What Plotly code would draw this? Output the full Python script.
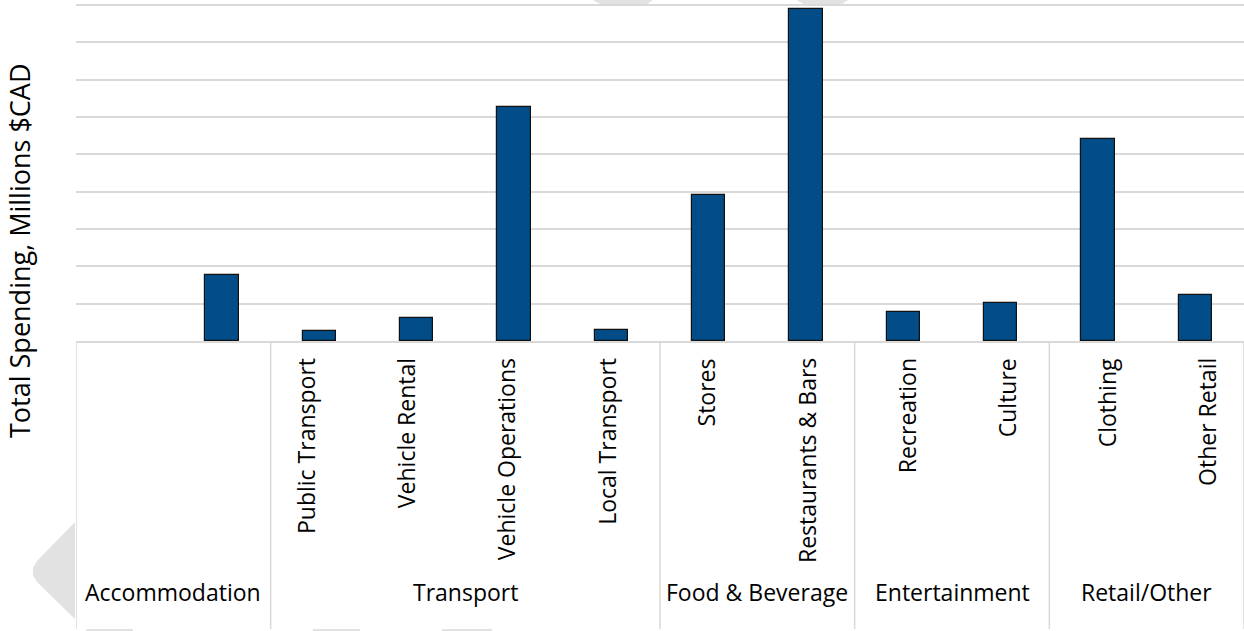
import plotly.graph_objects as go

# ---- data ----
groups = ["Accommodation", "Transport", "Food & Beverage", "Entertainment", "Retail/Other"]
group_sizes = [2, 4, 2, 2, 2]
sub_labels = ["", "", "Public Transport", "Vehicle Rental", "Vehicle Operations", "Local Transport",
              "Stores", "Restaurants & Bars", "Recreation", "Culture", "Clothing", "Other Retail"]
values = [None, 17.6, 2.8, 6.1, 62.8, 3.0, 39.0, 88.9, 7.9, 10.2, 54.2, 12.2]
y_title = "Total Spending, Millions $CAD"

W, H = 1244, 631
ML, MR, MT, MB = 76, 0, 4, 290
PW, PH = W - ML - MR, H - MT - MB
FONT = "Open Sans"
BAR = "#024C87"
GRID = "#D9D9D9"


def px(x):
    return (x - ML) / PW


def py(y):
    return (H - MB - y) / PH


xs = list(range(len(sub_labels)))

fig = go.Figure()
fig.add_trace(go.Bar(
    x=xs, y=values, width=0.34,
    marker=dict(color=BAR, line=dict(color="#111111", width=1.2)),
    hoverinfo="skip",
))

shapes = []
# group dividers
bounds = [-0.5]
for s in group_sizes:
    bounds.append(bounds[-1] + s)
for b in bounds:
    shapes.append(dict(type="line", xref="x", yref="paper", x0=b, x1=b, y0=0, y1=py(629),
                       line=dict(color=GRID, width=1.5)))

# faint decorative background artifacts
def poly(pts, color="#E2E2E2"):
    path = "M " + " L ".join(f"{px(a):.5f},{py(b):.5f}" for a, b in pts) + " Z"
    return dict(type="path", xref="paper", yref="paper", path=path,
                fillcolor=color, line=dict(width=0), layer="below")

shapes.append(poly([(75, 522), (37, 561), (33, 568), (33, 575), (37, 582), (75, 619)]))
shapes.append(poly([(593, 0), (653, 0), (647, 4), (600, 4)]))
shapes.append(poly([(797, 0), (848, 0), (842, 4), (803, 4)]))
for a, b in [(86, 133), (313, 360), (442, 492)]:
    shapes.append(poly([(a, 629), (b, 629), (b, 631), (a, 631)]))

annotations = []
# rotated sub-category labels (slightly wider spacing than the bars, as in the original)
slot_px = PW / len(sub_labels)
for i, lab in enumerate(sub_labels):
    if not lab:
        continue
    shift = (i - 2) * (100.1 - slot_px) - 13.3
    annotations.append(dict(x=i, y=py(356), xref="x", yref="paper", text=lab,
                            textangle=-90, showarrow=False, xanchor="center", yanchor="top",
                            xshift=shift,
                            font=dict(family=FONT, size=23, color="#000000")))

start = -0.5
for g, s in zip(groups, group_sizes):
    annotations.append(dict(x=start + s / 2, y=py(592), xref="x", yref="paper",
                            text=g, showarrow=False, xanchor="center", yanchor="middle",
                            font=dict(family=FONT, size=23, color="#000000")))
    start += s

annotations.append(dict(x=px(19), y=py(251), xref="paper", yref="paper", text=y_title,
                        textangle=-90, showarrow=False, xanchor="center", yanchor="middle",
                        font=dict(family=FONT, size=27, color="#000000")))

fig.update_layout(
    width=W, height=H,
    margin=dict(l=ML, r=MR, t=MT, b=MB, pad=0),
    paper_bgcolor="white", plot_bgcolor="rgba(0,0,0,0)",
    showlegend=False,
    bargap=0,
    shapes=shapes,
    annotations=annotations,
    font=dict(family=FONT, color="#000000"),
)
fig.update_xaxes(
    range=[-0.5, len(sub_labels) - 0.5],
    tickmode="array", tickvals=xs, showticklabels=False,
    ticks="", showgrid=False, zeroline=False,
    showline=True, linecolor=GRID, linewidth=1.5,
)
fig.update_yaxes(
    range=[0, 90.3], dtick=10, showticklabels=False, ticks="",
    showgrid=True, gridcolor=GRID, gridwidth=1.5, zeroline=False, showline=False,
)

fig.write_html("out.html", config={"displayModeBar": False},
               post_script="document.body.style.margin='0';document.body.style.overflow='hidden';")
